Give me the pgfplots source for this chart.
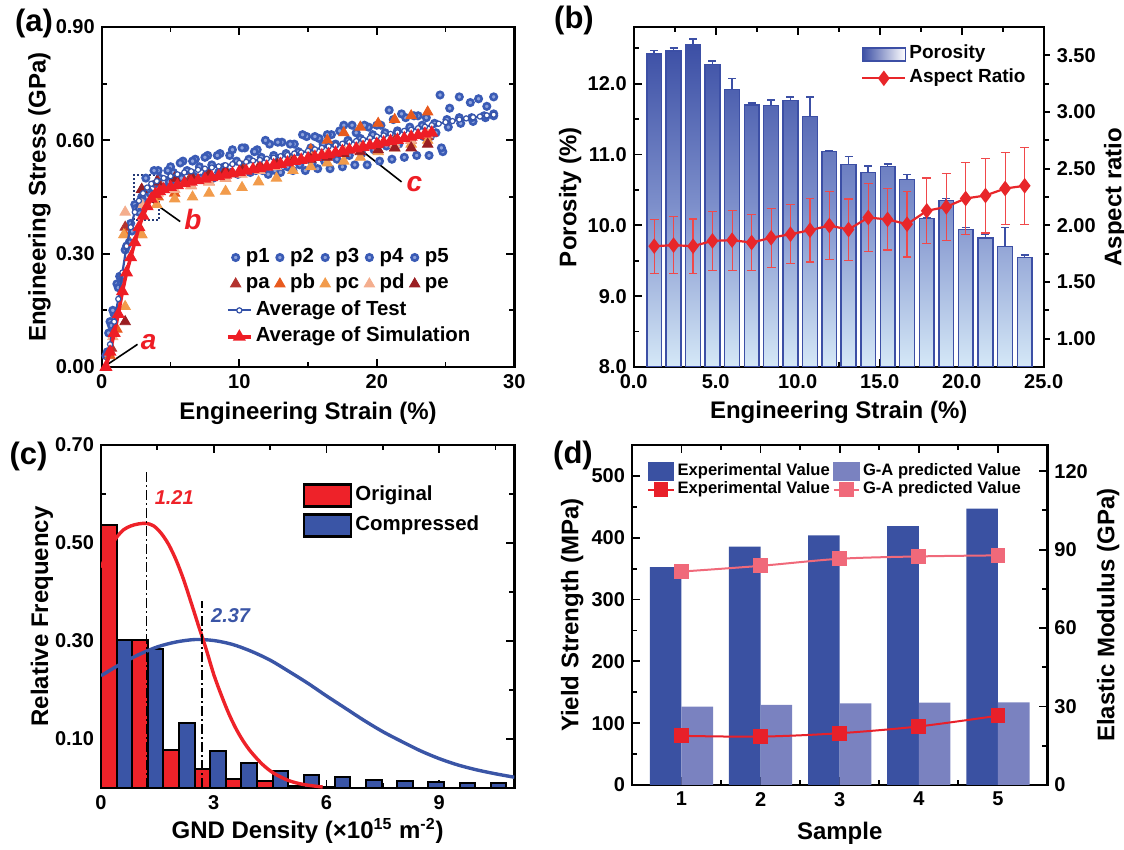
\documentclass[border=0pt]{standalone}
\usepackage{pgfplots}
\pgfplotsset{compat=1.18}
\usepackage{pgfplotstable}
\usepackage{fontspec}
\setmainfont{Liberation Sans}

\definecolor{pblue}{HTML}{3A5BB5}
\definecolor{pcen}{HTML}{8EA3DD}
\definecolor{tblue}{HTML}{3452A8}
\definecolor{sred}{HTML}{EE1D25}
\definecolor{ca}{HTML}{B3322E}
\definecolor{cb}{HTML}{E85A1E}
\definecolor{cc}{HTML}{F29B4B}
\definecolor{cd}{HTML}{F4AE8E}
\definecolor{ce}{HTML}{9A1E22}
\definecolor{bblue}{HTML}{3C4FA5}
\definecolor{blight}{HTML}{D5E8F7}
\definecolor{bmid}{HTML}{7D8FCB}
\definecolor{arred}{HTML}{E8262A}
\definecolor{errred}{HTML}{F0484A}
\definecolor{cred}{HTML}{EE2229}
\definecolor{cblue}{HTML}{3A55A6}
\definecolor{dexp}{HTML}{3A51A2}
\definecolor{dpred}{HTML}{7A82C0}
\definecolor{dline}{HTML}{E8202A}
\definecolor{dpink}{HTML}{F0697A}

\pgfplotstableread{
x por perr ar arerr
1.25 12.42 0.05 1.816 0.238
2.43 12.46 0.04 1.825 0.25
3.62 12.55 0.08 1.816 0.24
4.80 12.27 0.05 1.863 0.26
6.00 11.92 0.155 1.869 0.265
7.19 11.70 0.03 1.848 0.25
8.38 11.69 0.08 1.890 0.26
9.56 11.76 0.05 1.922 0.26
10.75 11.54 0.27 1.957 0.28
11.93 11.04 0.015 1.998 0.30
13.10 10.86 0.11 1.963 0.27
14.30 10.75 0.085 2.069 0.30
15.48 10.83 0.04 2.052 0.27
16.67 10.65 0.065 2.010 0.29
17.87 10.10 0.005 2.128 0.29
19.06 10.35 0.03 2.163 0.295
20.24 9.94 0.03 2.237 0.32
21.45 9.82 0.05 2.263 0.33
22.65 9.70 0.27 2.325 0.32
23.84 9.55 0.03 2.349 0.34
}\tabB

\pgfplotsset{
  panel/.style={
    scale only axis, anchor=north west,
    axis line style={line width=1.2pt},
    tick style={black, line width=0.9pt},
    major tick length=4pt, minor tick length=2.5pt,
    tick align=inside,
    tick label style={font=\fontsize{10}{12}\selectfont\bfseries},
    label style={font=\fontsize{12}{14}\selectfont\bfseries},
    /pgf/number format/assume math mode=true,
    legend cell align=left,
  },
  fix2/.style={/pgf/number format/fixed, /pgf/number format/fixed zerofill, /pgf/number format/precision=2},
  fix1/.style={/pgf/number format/fixed, /pgf/number format/fixed zerofill, /pgf/number format/precision=1},
  pcirc/.style={only marks, mark=*, mark size=1.6pt, mark options={draw=pblue, fill=pcen, line width=1.3pt}},
  ptri/.style={only marks, mark=triangle*, mark size=3pt, color=#1},
}

\begin{document}
\begin{tikzpicture}[font=\bfseries]
\useasboundingbox (0pt,0pt) rectangle (562pt,-425pt);

% ---------------- (a) ----------------
\begin{axis}[panel, at={(50.9pt,-13.5pt)}, width=206.25pt, height=170pt,
  xmin=0, xmax=30, ymin=0, ymax=0.9,
  xtick={0,10,20,30}, minor xtick={5,15,25},
  ytick={0,0.3,0.6,0.9}, minor ytick={0.15,0.45,0.75},
  yticklabel style={fix2},
  xlabel={Engineering Strain (\%)}, ylabel={Engineering Stress (GPa)},
  xlabel style={at={(axis description cs:0.5,-0.135)}, anchor=center},
  ylabel style={at={(axis description cs:-0.151,0.5)}, anchor=center},
  legend columns=5,
  legend style={at={(0.311,0.362)}, anchor=north west, draw=none, fill=none, inner sep=0pt,
    font=\fontsize{10.2}{12}\selectfont\bfseries,
    nodes={inner xsep=1.5pt, inner ysep=1.6pt, text height=7.5pt, text depth=2.5pt},
    /tikz/column sep=1pt},
  legend image code/.code={\draw[mark repeat=2,mark phase=2] plot coordinates {(0pt,0pt) (3.5pt,0pt) (7pt,0pt)};},
]
\addplot[pcirc] coordinates {(0.6,0.12)(1.1,0.22)(1.7,0.31)(2.4,0.43)(3.2,0.50)(4.1,0.52)(5.0,0.53)(5.9,0.545)(6.8,0.55)(7.7,0.56)(8.6,0.565)(9.5,0.575)(10.4,0.58)(11.3,0.575)(12.2,0.59)(13.1,0.595)(14.0,0.59)(14.9,0.61)(15.8,0.605)(16.7,0.615)(17.6,0.64)(18.5,0.62)(19.4,0.635)(20.3,0.64)(21.2,0.655)(22.1,0.66)(23.0,0.665)(23.9,0.61)(24.8,0.57)};
\addlegendentry{p1}
\addplot[pcirc] coordinates {(0.4,0.04)(0.9,0.14)(1.4,0.22)(2.0,0.33)(2.7,0.41)(3.5,0.46)(4.5,0.475)(5.4,0.485)(6.3,0.49)(7.2,0.50)(8.1,0.50)(9.0,0.505)(9.9,0.51)(10.8,0.515)(11.7,0.52)(12.6,0.52)(13.5,0.53)(14.4,0.535)(15.3,0.54)(16.2,0.545)(17.1,0.55)(18.0,0.56)(18.9,0.565)(19.8,0.575)(20.7,0.585)(21.6,0.59)(22.5,0.60)(23.4,0.61)(24.3,0.62)(25.2,0.635)(26.1,0.645)(27.0,0.65)(27.9,0.66)(28.5,0.665)};
\addlegendentry{p2}
\addplot[pcirc] coordinates {(0.3,0.03)(0.7,0.11)(1.2,0.21)(1.8,0.32)(2.5,0.42)(3.3,0.47)(4.2,0.50)(5.2,0.515)(6.2,0.52)(7.1,0.53)(8.0,0.535)(8.9,0.53)(9.8,0.545)(10.7,0.55)(11.6,0.555)(12.5,0.56)(13.4,0.565)(14.3,0.57)(15.2,0.58)(16.1,0.59)(17.0,0.59)(17.9,0.60)(18.8,0.605)(19.7,0.615)(20.6,0.62)(21.5,0.625)(22.4,0.635)(23.3,0.64)(24.2,0.645)(25.1,0.655)(26.0,0.66)(26.9,0.66)(27.8,0.665)(28.5,0.67)};
\addlegendentry{p3}
\addplot[pcirc] coordinates {(0.5,0.09)(1.3,0.24)(2.1,0.38)(2.9,0.45)(3.8,0.52)(4.8,0.52)(5.7,0.54)(6.6,0.545)(7.5,0.555)(8.4,0.56)(9.3,0.56)(10.2,0.58)(11.1,0.57)(11.9,0.60)(12.8,0.595)(13.7,0.59)(14.6,0.615)(15.5,0.61)(16.4,0.615)(17.3,0.625)(18.2,0.64)(19.1,0.64)(20.0,0.64)(20.9,0.68)(21.8,0.67)(22.7,0.665)(23.6,0.66)(24.6,0.72)(25.3,0.685)(26.0,0.715)(26.8,0.70)(27.4,0.71)(28.0,0.69)(28.5,0.715)};
\addlegendentry{p4}
\addplot[pcirc] coordinates {(0.8,0.15)(1.5,0.24)(2.2,0.36)(3.0,0.44)(3.9,0.485)(4.9,0.49)(5.8,0.50)(6.7,0.505)(7.6,0.51)(8.5,0.515)(9.4,0.515)(10.3,0.52)(11.2,0.52)(12.1,0.51)(13.0,0.515)(13.9,0.52)(14.8,0.52)(15.7,0.525)(16.6,0.525)(17.5,0.53)(18.4,0.535)(19.3,0.535)(20.2,0.545)(21.1,0.55)(22.0,0.555)(22.9,0.56)(23.8,0.56)(24.7,0.58)};
\addlegendentry{p5}
\addplot[ptri=ca] coordinates {(0.7,0.05)(1.7,0.37)(2.9,0.47)(4.1,0.49)(5.3,0.50)(6.5,0.505)(7.8,0.51)(9.0,0.52)(10.2,0.53)(11.5,0.535)(12.7,0.54)(13.9,0.55)(15.2,0.555)(16.4,0.56)(17.6,0.57)(18.8,0.58)(20.1,0.59)(21.3,0.60)(22.5,0.60)(23.7,0.61)};
\addlegendentry{pa}
\addplot[ptri=cb] coordinates {(0.6,0.03)(1.1,0.10)(1.7,0.35)(2.9,0.35)(4.1,0.45)(5.3,0.46)(6.5,0.48)(7.8,0.49)(9.0,0.50)(10.2,0.52)(11.5,0.525)(12.7,0.54)(13.9,0.555)(15.2,0.575)(16.4,0.60)(17.6,0.62)(18.8,0.635)(20.1,0.645)(21.3,0.655)(22.5,0.665)(23.7,0.675)};
\addlegendentry{pb}
\addplot[ptri=cc] coordinates {(1.7,0.16)(1.6,0.35)(2.9,0.35)(4.0,0.43)(5.3,0.445)(6.6,0.45)(7.8,0.46)(9.0,0.465)(10.2,0.475)(11.4,0.49)(12.7,0.50)(13.9,0.52)(15.2,0.53)(16.4,0.54)(17.6,0.545)(18.8,0.555)(20.1,0.57)(21.3,0.58)(22.5,0.59)(23.7,0.60)};
\addlegendentry{pc}
\addplot[ptri=cd] coordinates {(0.8,0.08)(1.7,0.41)(2.9,0.43)(4.1,0.46)(5.3,0.47)(6.5,0.48)(7.8,0.49)(9.0,0.50)(10.2,0.51)(11.5,0.52)(12.7,0.53)(13.9,0.545)(15.2,0.555)(16.4,0.565)(17.6,0.575)(18.8,0.585)(20.1,0.575)(21.3,0.59)(22.5,0.60)(23.7,0.615)};
\addlegendentry{pd}
\addplot[ptri=ce] coordinates {(1.7,0.12)(2.9,0.47)(4.0,0.49)(5.3,0.50)(6.6,0.50)(7.8,0.51)(9.0,0.52)(10.2,0.52)(11.5,0.53)(12.7,0.54)(13.9,0.545)(15.2,0.55)(16.4,0.555)(17.6,0.565)(18.8,0.57)(20.1,0.575)(21.3,0.58)(22.5,0.58)(23.7,0.59)};
\addlegendentry{pe}
\draw[black, line width=0.8pt] (axis cs:0.26,0.003) -- (axis cs:2.6,0.06);
\draw[black, line width=0.8pt] (axis cs:3.5,0.442) -- (axis cs:5.7,0.385);
\draw[black, line width=0.8pt] (axis cs:18.57,0.582) -- (axis cs:21.8,0.49);
\draw[tblue!70!black, densely dotted, line width=1pt] (axis cs:2.34,0.389) rectangle (axis cs:4.16,0.508);
\node[sred, font=\fontsize{14}{16}\selectfont\bfseries\itshape] at (axis cs:3.4,0.067) {a};
\node[sred, font=\fontsize{14}{16}\selectfont\bfseries\itshape] at (axis cs:6.62,0.39) {b};
\node[sred, font=\fontsize{14}{16}\selectfont\bfseries\itshape] at (axis cs:22.73,0.484) {c};
\end{axis}

\begin{axis}[panel, at={(50.9pt,-13.5pt)}, width=206.25pt, height=170pt,
  xmin=0, xmax=30, ymin=0, ymax=0.9, hide axis,
  legend style={at={(0.300,0.2065)}, anchor=north west, draw=none, fill=none, inner sep=0pt,
    font=\fontsize{10.2}{12}\selectfont\bfseries,
    nodes={inner xsep=1.5pt, inner ysep=1.6pt, text height=7.5pt, text depth=2.5pt}},
  legend image code/.code={\draw[mark repeat=2,mark phase=2] plot coordinates {(0pt,0pt) (5.8pt,0pt) (11.6pt,0pt)};},
]
\addplot[tblue, line width=1.1pt, mark=*, mark size=1.3pt, mark options={fill=white, draw=tblue, line width=0.6pt}] coordinates {(0.3,0)(0.6,0.06)(0.9,0.12)(1.2,0.18)(1.5,0.25)(1.8,0.32)(2.1,0.37)(2.4,0.41)(2.7,0.44)(3.0,0.46)(3.3,0.475)(3.6,0.485)(4.0,0.492)(4.5,0.50)(5,0.505)(5.5,0.51)(6,0.515)(6.5,0.518)(7,0.522)(7.5,0.525)(8,0.528)(8.5,0.531)(9,0.534)(9.5,0.537)(10,0.54)(10.5,0.543)(11,0.546)(11.5,0.548)(12,0.551)(12.5,0.554)(13,0.558)(13.5,0.561)(14,0.565)(14.5,0.568)(15,0.572)(15.5,0.576)(16,0.58)(16.5,0.584)(17,0.587)(17.5,0.591)(18,0.595)(18.5,0.598)(19,0.602)(19.5,0.606)(20,0.61)(20.5,0.613)(21,0.617)(21.5,0.621)(22,0.625)(22.5,0.628)(23,0.632)(23.5,0.636)(24,0.64)(24.5,0.644)(25,0.648)(25.5,0.651)(26,0.655)(26.5,0.658)(27,0.661)(27.5,0.663)(28,0.666)(28.5,0.668)};
\addlegendentry{Average of Test}
\addplot[sred, line width=1.8pt, mark=triangle*, mark size=2pt] coordinates {(0.3,0)(0.6,0.04)(0.9,0.09)(1.2,0.14)(1.5,0.2)(1.8,0.25)(2.1,0.29)(2.4,0.33)(2.7,0.37)(3.0,0.40)(3.3,0.425)(3.6,0.445)(3.9,0.458)(4.2,0.465)(4.5,0.47)(5,0.476)(5.5,0.481)(6,0.486)(6.5,0.49)(7,0.494)(7.5,0.498)(8,0.502)(8.5,0.505)(9,0.509)(9.5,0.512)(10,0.516)(10.5,0.519)(11,0.523)(11.5,0.526)(12,0.53)(12.5,0.534)(13,0.537)(13.5,0.541)(14,0.545)(14.5,0.548)(15,0.552)(15.5,0.556)(16,0.56)(16.5,0.563)(17,0.567)(17.5,0.571)(18,0.575)(18.5,0.578)(19,0.582)(19.5,0.586)(20,0.59)(20.5,0.594)(21,0.598)(21.5,0.601)(22,0.605)(22.5,0.609)(23,0.613)(23.5,0.617)(24,0.62)};
\addlegendentry{Average of Simulation}
\end{axis}

% ---------------- (b) ----------------
\begin{axis}[panel, at={(316.85pt,-13.5pt)}, width=205pt, height=170pt,
  xmin=0, xmax=25, ymin=0, ymax=4.8,
  xtick={0,5,10,15,20,25}, minor xtick={2.5,7.5,12.5,17.5,22.5},
  xticklabel style={fix1},
  ytick={0,1,2,3,4}, yticklabels={8.0,9.0,10.0,11.0,12.0}, minor ytick={0.5,1.5,2.5,3.5,4.5},
  ytick pos=left,
  xlabel={Engineering Strain (\%)}, ylabel={Porosity (\%)},
  xlabel style={at={(axis description cs:0.5,-0.132)}, anchor=center},
  ylabel style={at={(axis description cs:-0.155,0.5)}, anchor=center},
]
\addplot[ybar, bar width=0.9, bar shift=0pt, draw=bblue, line width=0.7pt,
  top color=bblue, bottom color=blight, middle color=bmid,
  error bars/.cd, y dir=plus, y explicit,
  error bar style={bblue, line width=0.8pt},
  error mark options={rotate=90, bblue, mark size=2pt, line width=0.8pt}]
  table[x=x, y expr=\thisrow{por}-8, y error=perr]{\tabB};
\end{axis}

\begin{axis}[panel, at={(316.85pt,-13.5pt)}, width=205pt, height=170pt,
  xmin=0, xmax=25, ymin=0.75, ymax=3.75,
  axis x line=none, axis y line*=right, tick align=outside, major tick length=3pt,
  ytick={1,1.5,2,2.5,3,3.5}, minor ytick={1.25,1.75,2.25,2.75,3.25},
  yticklabel style={fix2},
  ylabel={Aspect ratio},
  ylabel style={at={(axis description cs:1.174,0.5)}, anchor=center},
  legend style={at={(0.554,0.956)}, anchor=north west, draw=none, fill=none, inner sep=0pt,
    font=\fontsize{9.5}{11}\selectfont\bfseries,
    nodes={inner xsep=1.5pt, inner ysep=1.5pt, text height=6.8pt, text depth=2.2pt}},
]
\addlegendimage{legend image code/.code={\draw[left color=bblue, right color=white, draw=bblue, line width=0.8pt] (0pt,-3.25pt) rectangle (21.5pt,3.25pt);}}
\addlegendentry{Porosity}
\addplot[arred, line width=1.1pt, mark=diamond*, mark size=3pt,
  legend image code/.code={\draw[mark repeat=2,mark phase=2] plot coordinates {(0pt,0pt) (10.75pt,0pt) (21.5pt,0pt)};},
  error bars/.cd, y dir=both, y explicit,
  error bar style={errred, line width=0.6pt},
  error mark options={rotate=90, errred, mark size=2.2pt, line width=0.6pt}]
  table[x=x, y=ar, y error=arerr]{\tabB};
\addlegendentry{Aspect Ratio}
\end{axis}

% ---------------- (c) ----------------
\begin{axis}[panel, at={(50.5pt,-222.5pt)}, width=206.65pt, height=171.5pt,
  xmin=0, xmax=11, ymin=0, ymax=0.7,
  xtick={0,3,6,9}, minor xtick={1.5,4.5,7.5,10.5},
  ytick={0.1,0.3,0.5,0.7}, minor ytick={0.2,0.4,0.6},
  yticklabel style={fix2},
  xlabel={GND Density (×10\textsuperscript{15} m\textsuperscript{-2})}, ylabel={Relative Frequency},
  xlabel style={at={(axis description cs:0.5,-0.125)}, anchor=center},
  ylabel style={at={(axis description cs:-0.143,0.5)}, anchor=center},
  legend style={at={(0.488,0.890)}, anchor=north west, draw=none, fill=none, inner sep=0pt,
    font=\fontsize{10.2}{12}\selectfont\bfseries,
    nodes={inner xsep=1.5pt, inner ysep=1.15pt, text height=7.5pt, text depth=2.5pt},
    /tikz/row sep=2.8pt},
]
\addplot[ybar, bar width=0.415, bar shift=0pt, fill=cred, draw=black, line width=1pt,
  legend image code/.code={\draw[fill=cred, draw=black, line width=1.2pt] (0pt,-5.5pt) rectangle (23.5pt,5.5pt);}]
  coordinates {(0.2075,0.537)(1.0375,0.303)(1.8675,0.077)(2.6975,0.038)(3.5275,0.019)(4.3575,0.014)(5.1875,0.005)(6.0175,0.002)};
\addlegendentry{Original}
\addplot[ybar, bar width=0.415, bar shift=0pt, fill=cblue, draw=black, line width=1pt,
  legend image code/.code={\draw[fill=cblue, draw=black, line width=1.2pt] (0pt,-5.5pt) rectangle (23.5pt,5.5pt);}]
  coordinates {(0.6225,0.303)(1.4525,0.284)(2.2825,0.133)(3.1125,0.076)(3.9425,0.052)(4.7725,0.035)(5.6025,0.027)(6.4325,0.023)(7.2625,0.016)(8.0925,0.014)(8.9225,0.012)(9.7525,0.01)(10.5825,0.01)};
\addlegendentry{Compressed}
\addplot[cblue, line width=1.7pt, smooth, forget plot] coordinates {(0,0.229)(0.5,0.252)(1,0.272)(1.5,0.288)(2,0.298)(2.5,0.303)(3,0.301)(3.5,0.293)(4,0.279)(4.5,0.261)(5,0.238)(5.5,0.214)(6,0.188)(6.5,0.163)(7,0.138)(7.5,0.115)(8,0.095)(8.5,0.076)(9,0.060)(9.5,0.047)(10,0.037)(10.5,0.029)(11,0.022)};
\addplot[cred, line width=1.7pt, smooth, forget plot] coordinates {(0,0.45)(0.2,0.485)(0.4,0.51)(0.6,0.527)(0.8,0.535)(1.0,0.539)(1.21,0.540)(1.4,0.535)(1.6,0.52)(1.8,0.497)(2.0,0.465)(2.2,0.425)(2.4,0.378)(2.6,0.33)(2.8,0.283)(3.0,0.232)(3.2,0.19)(3.4,0.152)(3.6,0.12)(3.8,0.094)(4.0,0.073)(4.3,0.048)(4.6,0.030)(5.0,0.015)(5.4,0.007)(5.9,0.002)};
\addplot[black, line width=0.7pt, dash pattern=on 5pt off 1.5pt on 1pt off 1.5pt, forget plot] coordinates {(1.21,0)(1.21,0.645)};
\addplot[black, line width=0.7pt, dash pattern=on 5pt off 1.5pt on 1pt off 1.5pt, forget plot] coordinates {(2.69,0)(2.69,0.381)};
\node[cred, font=\fontsize{10}{12}\selectfont\bfseries\itshape] at (axis cs:1.95,0.593) {1.21};
\node[cblue, font=\fontsize{10}{12}\selectfont\bfseries\itshape] at (axis cs:3.45,0.351) {2.37};
\end{axis}

% ---------------- (d) ----------------
\begin{axis}[panel, at={(316pt,-222.5pt)}, width=207.7pt, height=170pt,
  xmin=0.375, xmax=5.625, ymin=0, ymax=550,
  xtick={1,2,3,4,5}, minor xtick={1.5,2.5,3.5,4.5},
  ytick={0,100,200,300,400,500}, minor ytick={50,150,250,350,450},
  ytick pos=left,
  xlabel={Sample}, ylabel={Yield Strength (MPa)},
  xlabel style={at={(axis description cs:0.5,-0.141)}, anchor=center},
  ylabel style={at={(axis description cs:-0.144,0.5)}, anchor=center},
]
\addplot[ybar, bar width=0.4, bar shift=-0.2, fill=dexp, draw=none] coordinates {(1,352.6)(2,385.7)(3,404)(4,418.7)(5,447)};
\addplot[ybar, bar width=0.4, bar shift=0.2, fill=dpred, draw=none] coordinates {(1,126.8)(2,129.5)(3,132.2)(4,133.3)(5,133.8)};
\end{axis}

\begin{axis}[panel, at={(316pt,-222.5pt)}, width=207.7pt, height=170pt,
  xmin=0.375, xmax=5.625, ymin=0, ymax=130,
  axis x line=none, axis y line*=right,
  ytick={0,30,60,90,120}, minor ytick={15,45,75,105},
  ylabel={Elastic Modulus (GPa)},
  ylabel style={at={(axis description cs:1.146,0.5)}, anchor=center},
  legend columns=2,
  legend style={at={(0.036,0.951)}, anchor=north west, draw=none, fill=none, inner sep=0pt,
    font=\fontsize{8.3}{10}\selectfont\bfseries,
    nodes={inner xsep=1.5pt, inner ysep=0.5pt, text height=6pt, text depth=1.8pt},
    /tikz/column sep=0pt},
  legend image code/.code={\draw[mark repeat=2,mark phase=2] plot coordinates {(0pt,0pt) (6.3pt,0pt) (12.6pt,0pt)};},
]
\addlegendimage{legend image code/.code={\fill[dexp] (0pt,-4.5pt) rectangle (12.6pt,4.5pt);}}
\addlegendentry{Experimental Value}
\addlegendimage{legend image code/.code={\fill[dpred] (0pt,-4.5pt) rectangle (12.6pt,4.5pt);}}
\addlegendentry{G-A predicted Value}
\addplot[dline, line width=1pt, smooth, mark=square*, mark size=3.2pt] coordinates {(1,18.8)(2,18.5)(3,19.8)(4,22.4)(5,26.5)};
\addlegendentry{Experimental Value}
\addplot[dpink, line width=1pt, smooth, mark=square*, mark size=3.2pt] coordinates {(1,81.6)(2,83.8)(3,86.5)(4,87.4)(5,87.8)};
\addlegendentry{G-A predicted Value}
\end{axis}

\node[font=\fontsize{15.5}{18}\selectfont\bfseries] at (17pt,-11.5pt) {(a)};
\node[font=\fontsize{15.5}{18}\selectfont\bfseries] at (287pt,-10pt) {(b)};
\node[font=\fontsize{15.5}{18}\selectfont\bfseries] at (14.25pt,-228pt) {(c)};
\node[font=\fontsize{15.5}{18}\selectfont\bfseries] at (286.5pt,-227.5pt) {(d)};
\end{tikzpicture}
\end{document}
